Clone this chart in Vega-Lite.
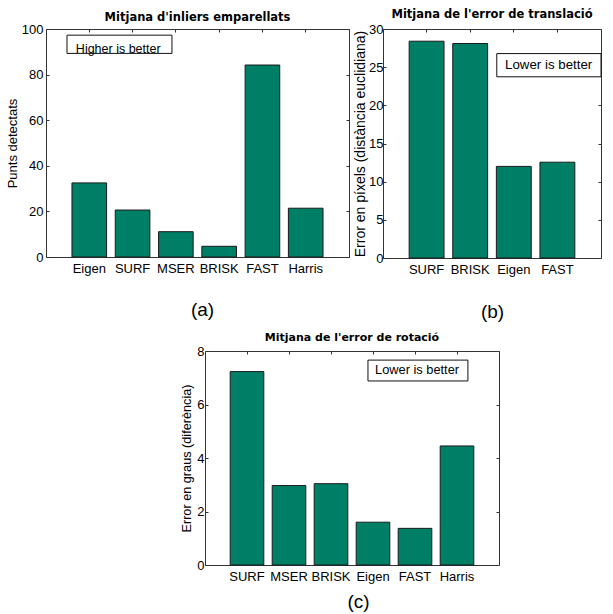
{
  "$schema": "https://vega.github.io/schema/vega-lite/v6.json",
  "background": "white",
  "padding": {"left": 5, "top": 8, "right": 0, "bottom": 0},
  "config": {
    "view": {"stroke": "#333", "strokeWidth": 1},
    "font": "Liberation Sans",
    "axis": {"labelFont": "Liberation Sans", "labelFontSize": 13, "labelColor": "#000", "titleFont": "Liberation Sans", "titleFontSize": 13, "titleFontWeight": "normal", "titleColor": "#000", "grid": false, "domain": false, "tickColor": "#333"},
    "title": {"font": "DejaVu Sans", "fontSize": 11.5, "fontWeight": "bold", "color": "#000", "frame": "group"}
  },
  "datasets": {
    "a": [
      {"method": "Eigen", "value": 32.5},
      {"method": "SURF", "value": 20.6},
      {"method": "MSER", "value": 11.1},
      {"method": "BRISK", "value": 4.7},
      {"method": "FAST", "value": 84.2},
      {"method": "Harris", "value": 21.4}
    ],
    "b": [
      {"method": "SURF", "value": 28.4},
      {"method": "BRISK", "value": 28.1},
      {"method": "Eigen", "value": 12.0},
      {"method": "FAST", "value": 12.55}
    ],
    "c": [
      {"method": "SURF", "value": 7.23},
      {"method": "MSER", "value": 2.97},
      {"method": "BRISK", "value": 3.04},
      {"method": "Eigen", "value": 1.6},
      {"method": "FAST", "value": 1.37},
      {"method": "Harris", "value": 4.45}
    ],
    "boxA": [{"x1": 0.485, "x2": 2.91, "y1": 97.3, "y2": 89.3, "tx": 0.69, "ty": 89.6, "label": "Higher is better"}],
    "boxB": [{"x1": 2.61, "x2": 5.0, "y1": 26.78, "y2": 23.74, "tx": 2.8, "ty": 25.3, "label": "Lower is better"}],
    "boxC": [{"x1": 3.88, "x2": 6.26, "y1": 7.66, "y2": 6.88, "tx": 4.05, "ty": 7.28, "label": "Lower is better"}]
  },
  "vconcat": [
    {
      "hconcat": [
        {
          "width": 303, "height": 228,
          "title": {"text": "Mitjana d'inliers emparellats", "offset": 0},
          "layer": [
            {
              "data": {"name": "a"},
              "mark": {"type": "bar", "fill": "#007f67", "stroke": "#1a1a1a", "strokeWidth": 1},
              "encoding": {
                "x": {"field": "method", "type": "nominal", "sort": null, "scale": {"paddingInner": 0.2, "paddingOuter": 0.6}, "axis": {"title": "(a)", "titleFontSize": 19, "titlePadding": 25, "titleX": 156, "labelAngle": 0, "ticks": false, "labelPadding": 5}},
                "y": {"field": "value", "type": "quantitative", "scale": {"domain": [0, 100], "nice": false}, "axis": {"title": "Punts detectats", "values": [0, 20, 40, 60, 80, 100], "tickSize": -3, "labelPadding": 6, "titlePadding": 2}}
              }
            },
            {
              "data": {"name": "a"},
              "mark": {"type": "bar", "opacity": 0},
              "encoding": {
                "x": {"field": "method", "type": "nominal", "sort": null, "scale": {"paddingInner": 0.2, "paddingOuter": 0.6}, "axis": {"orient": "top", "title": null, "labels": false, "tickSize": -3}},
                "y": {"field": "value", "type": "quantitative", "axis": {"orient": "right", "title": null, "labels": false, "values": [0, 20, 40, 60, 80, 100], "tickSize": -3}}
              }
            },
            {
              "data": {"name": "boxA"},
              "mark": {"type": "rect", "fill": "white", "stroke": "#111", "strokeWidth": 1},
              "encoding": {
                "x": {"field": "x1", "type": "quantitative", "scale": {"domain": [0, 7], "nice": false, "zero": false}, "axis": null},
                "x2": {"field": "x2"},
                "y": {"field": "y1", "type": "quantitative", "axis": null},
                "y2": {"field": "y2"}
              }
            },
            {
              "data": {"name": "boxA"},
              "mark": {"type": "text", "align": "left", "baseline": "alphabetic", "fontSize": 12.5, "font": "Liberation Sans", "color": "#000"},
              "encoding": {
                "x": {"field": "tx", "type": "quantitative", "scale": {"domain": [0, 7], "nice": false, "zero": false}, "axis": null},
                "y": {"field": "ty", "type": "quantitative", "axis": null},
                "text": {"field": "label"}
              }
            }
          ],
          "resolve": {"scale": {"x": "independent"}, "axis": {"x": "independent", "y": "independent"}}
        },
        {
          "width": 218, "height": 229,
          "title": {"text": "Mitjana de l'error de translació", "offset": 3},
          "layer": [
            {
              "data": {"name": "b"},
              "mark": {"type": "bar", "fill": "#007f67", "stroke": "#1a1a1a", "strokeWidth": 1},
              "encoding": {
                "x": {"field": "method", "type": "nominal", "sort": null, "scale": {"paddingInner": 0.2, "paddingOuter": 0.6}, "axis": {"title": "(b)", "titleFontSize": 19, "titlePadding": 26, "labelAngle": 0, "ticks": false, "labelPadding": 5}},
                "y": {"field": "value", "type": "quantitative", "scale": {"domain": [0, 30], "nice": false}, "axis": {"title": "Error en píxels (distància euclidiana)", "titleFontSize": 14, "values": [0, 5, 10, 15, 20, 25, 30], "tickSize": -3, "labelPadding": 3, "titlePadding": 1}}
              }
            },
            {
              "data": {"name": "b"},
              "mark": {"type": "bar", "opacity": 0},
              "encoding": {
                "x": {"field": "method", "type": "nominal", "sort": null, "scale": {"paddingInner": 0.2, "paddingOuter": 0.6}, "axis": {"orient": "top", "title": null, "labels": false, "tickSize": -3}},
                "y": {"field": "value", "type": "quantitative", "axis": {"orient": "right", "title": null, "labels": false, "values": [0, 5, 10, 15, 20, 25, 30], "tickSize": -3}}
              }
            },
            {
              "data": {"name": "boxB"},
              "mark": {"type": "rect", "fill": "white", "stroke": "#111", "strokeWidth": 1},
              "encoding": {
                "x": {"field": "x1", "type": "quantitative", "scale": {"domain": [0, 5], "nice": false, "zero": false}, "axis": null},
                "x2": {"field": "x2"},
                "y": {"field": "y1", "type": "quantitative", "axis": null},
                "y2": {"field": "y2"}
              }
            },
            {
              "data": {"name": "boxB"},
              "mark": {"type": "text", "align": "left", "baseline": "middle", "fontSize": 13.3, "font": "Liberation Sans", "color": "#000"},
              "encoding": {
                "x": {"field": "tx", "type": "quantitative", "scale": {"domain": [0, 5], "nice": false, "zero": false}, "axis": null},
                "y": {"field": "ty", "type": "quantitative", "axis": null},
                "text": {"field": "label"}
              }
            }
          ],
          "resolve": {"scale": {"x": "independent"}, "axis": {"x": "independent", "y": "independent"}}
        }
      ],
      "spacing": 3,
      "align": "none"
    },
    {
      "hconcat": [
        {
          "width": 134, "height": 10,
          "view": {"stroke": null},
          "data": {"values": []},
          "mark": {"type": "point", "opacity": 0},
          "encoding": {}
        },
        {
          "width": 294, "height": 214,
          "title": {"text": "Mitjana de l'error de rotació", "offset": 2, "fontSize": 11},
          "layer": [
            {
              "data": {"name": "c"},
              "mark": {"type": "bar", "fill": "#007f67", "stroke": "#1a1a1a", "strokeWidth": 1},
              "encoding": {
                "x": {"field": "method", "type": "nominal", "sort": null, "scale": {"paddingInner": 0.2, "paddingOuter": 0.6}, "axis": {"title": "(c)", "titleFontSize": 19, "titlePadding": 9, "titleX": 153, "labelAngle": 0, "ticks": false, "labelPadding": 5}},
                "y": {"field": "value", "type": "quantitative", "scale": {"domain": [0, 8], "nice": false}, "axis": {"title": "Error en graus (diferència)", "titleFontSize": 12.7, "values": [0, 2, 4, 6, 8], "tickSize": -3, "labelPadding": 4, "titlePadding": 3}}
              }
            },
            {
              "data": {"name": "c"},
              "mark": {"type": "bar", "opacity": 0},
              "encoding": {
                "x": {"field": "method", "type": "nominal", "sort": null, "scale": {"paddingInner": 0.2, "paddingOuter": 0.6}, "axis": {"orient": "top", "title": null, "labels": false, "tickSize": -3}},
                "y": {"field": "value", "type": "quantitative", "axis": {"orient": "right", "title": null, "labels": false, "values": [0, 2, 4, 6, 8], "tickSize": -3}}
              }
            },
            {
              "data": {"name": "boxC"},
              "mark": {"type": "rect", "fill": "white", "stroke": "#111", "strokeWidth": 1},
              "encoding": {
                "x": {"field": "x1", "type": "quantitative", "scale": {"domain": [0, 7], "nice": false, "zero": false}, "axis": null},
                "x2": {"field": "x2"},
                "y": {"field": "y1", "type": "quantitative", "axis": null},
                "y2": {"field": "y2"}
              }
            },
            {
              "data": {"name": "boxC"},
              "mark": {"type": "text", "align": "left", "baseline": "middle", "fontSize": 12.8, "font": "Liberation Sans", "color": "#000"},
              "encoding": {
                "x": {"field": "tx", "type": "quantitative", "scale": {"domain": [0, 7], "nice": false, "zero": false}, "axis": null},
                "y": {"field": "ty", "type": "quantitative", "axis": null},
                "text": {"field": "label"}
              }
            }
          ],
          "resolve": {"scale": {"x": "independent"}, "axis": {"x": "independent", "y": "independent"}}
        }
      ],
      "spacing": 0
    }
  ],
  "spacing": 9
}
